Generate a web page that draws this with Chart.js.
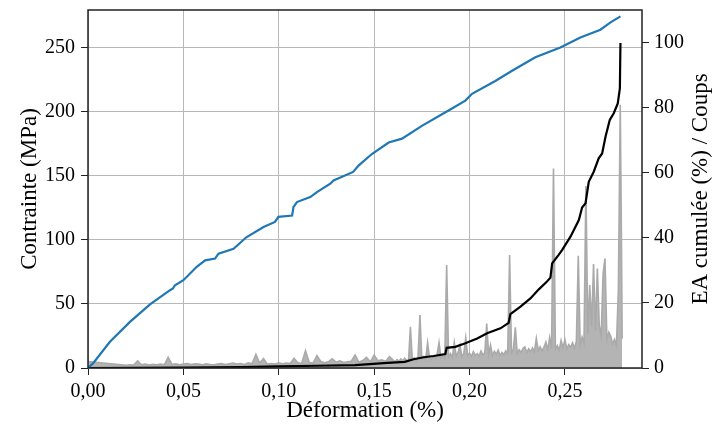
<!DOCTYPE html>
<html><head><meta charset="utf-8">
<script src="https://cdn.jsdelivr.net/npm/chart.js@4/dist/chart.umd.min.js"></script>
<style>html,body{margin:0;padding:0;background:#fff;} canvas{display:block;}</style>
</head><body>
<canvas id="c" width="715" height="430"></canvas>
<script>
// ---- Data ----
const stressStrain = [0, 0.0026, 0.0115, 0.022, 0.0325, 0.043, 0.0445, 0.0456, 0.05, 0.057, 0.0614, 0.0666, 0.0684, 0.0763, 0.083, 0.092, 0.098, 0.0998, 0.107, 0.1077, 0.1095, 0.1165, 0.12, 0.127, 0.1287, 0.139, 0.1418, 0.1488, 0.1576, 0.1646, 0.175, 0.189, 0.1978, 0.2013, 0.2135, 0.2223, 0.2345, 0.2476, 0.2581, 0.2686, 0.2739, 0.2791];
const stressMPa = [0, 3.6, 20.5, 36, 49.6, 60.7, 62, 64.6, 68.5, 79, 84, 85.4, 89.3, 93, 102, 110, 114, 118, 119, 125.6, 129.5, 133.4, 137.3, 143.8, 146.4, 153, 158, 167, 176, 179, 189, 201, 208.7, 214, 224, 232, 242.5, 250.2, 258, 264, 269.7, 274.4];

const aeStrain = [0, 0.05, 0.08, 0.10, 0.12, 0.14, 0.157, 0.166, 0.1707, 0.176, 0.1812, 0.1873, 0.188, 0.1925, 0.1978, 0.204, 0.2092, 0.2162, 0.2205, 0.2214, 0.2267, 0.2319, 0.2363, 0.2406, 0.2424, 0.2433, 0.2467, 0.2485, 0.2529, 0.2573, 0.259, 0.2608, 0.2625, 0.2651, 0.2677, 0.2695, 0.2713, 0.2735, 0.2756, 0.2777, 0.2788, 0.2791];
const aeCumulPct = [0, 0.15, 0.3, 0.5, 0.7, 0.9, 1.6, 1.9, 2.7, 3.3, 3.7, 4.3, 6.2, 6.5, 7.6, 9.1, 10.7, 12.2, 13.9, 16.6, 18.9, 21.4, 24.2, 26.6, 27.8, 32.2, 34.8, 36.3, 40.4, 45.5, 49.4, 50.7, 57.3, 60.4, 64.5, 66, 71.2, 76.3, 78.4, 81.4, 86, 100];

const hitsStrain = [0, 0.020, 0.022, 0.024, 0.026, 0.028, 0.030, 0.032, 0.034, 0.036, 0.038, 0.040, 0.042, 0.044, 0.046, 0.048, 0.050, 0.052, 0.054, 0.056, 0.058, 0.060, 0.062, 0.064, 0.066, 0.068, 0.070, 0.072, 0.074, 0.076, 0.078, 0.080, 0.082, 0.084, 0.086, 0.088, 0.090, 0.092, 0.094, 0.096, 0.098, 0.100, 0.102, 0.104, 0.106, 0.108, 0.110, 0.112, 0.114, 0.116, 0.118, 0.120, 0.122, 0.124, 0.126, 0.128, 0.130, 0.132, 0.134, 0.136, 0.138, 0.140, 0.142, 0.144, 0.146, 0.148, 0.150, 0.152, 0.154, 0.156, 0.158, 0.160,
  0.161, 0.162, 0.163, 0.164, 0.165, 0.166, 0.167, 0.168, 0.169, 0.170, 0.171, 0.172, 0.173, 0.174, 0.175, 0.176, 0.177, 0.178, 0.179, 0.180,
  0.181, 0.182, 0.183, 0.184, 0.185, 0.186, 0.187, 0.188, 0.189, 0.190, 0.191, 0.192, 0.193, 0.194, 0.195, 0.196, 0.197, 0.198, 0.199, 0.200,
  0.201, 0.202, 0.203, 0.204, 0.205, 0.206, 0.207, 0.208, 0.209, 0.210, 0.211, 0.212, 0.213, 0.214, 0.215, 0.216, 0.217, 0.218, 0.219, 0.220,
  0.221, 0.222, 0.223, 0.224, 0.225, 0.226, 0.227, 0.228, 0.229, 0.230, 0.231, 0.232, 0.233, 0.234, 0.235, 0.236, 0.237, 0.238, 0.239, 0.240,
  0.241, 0.242, 0.243, 0.244, 0.245, 0.246, 0.247, 0.248, 0.249, 0.250, 0.251, 0.252, 0.253, 0.254, 0.255, 0.256, 0.257, 0.258, 0.259, 0.260,
  0.261, 0.262, 0.263, 0.264, 0.265, 0.266, 0.267, 0.268, 0.269, 0.270, 0.271, 0.272, 0.273, 0.274, 0.275, 0.276, 0.277, 0.278, 0.279, 0.2795, 0.280];
const hitsCount = [2.0, 0.8, 1.0, 0.9, 2.2, 1.0, 1.2, 0.9, 1.1, 1.0, 1.2, 1.0, 3.3, 1.1, 1.3, 1.0, 1.2, 1.4, 1.1, 1.3, 1.2, 1.0, 1.3, 1.1, 1.0, 1.2, 1.4, 1.1, 1.3, 1.5, 1.2, 1.4, 1.1, 1.6, 1.3, 4.2, 1.5, 2.9, 1.2, 1.4, 1.2, 1.6, 1.3, 1.5, 1.4, 3.0, 1.6, 1.4, 5.3, 1.7, 1.5, 3.8, 2.0, 1.6, 1.9, 2.8, 1.8, 2.2, 1.7, 1.9, 2.1, 4.0, 1.8, 2.3, 3.3, 1.9, 4.0, 2.2, 2.5, 2.0, 3.5, 2.4,
  1.9, 2.6, 2.1, 2.8, 2.2, 3.0, 2.4, 2.1, 12.7, 2.6, 3.1, 2.3, 3.4, 16.3, 2.8, 3.5, 2.6, 7.8, 3.2, 2.7,
  3.6, 3.0, 4.2, 7.8, 3.1, 3.8, 2.9, 31.7, 3.5, 4.4, 3.2, 7.8, 3.6, 4.8, 7.0, 3.4, 4.5, 9.3, 3.8, 4.6,
  3.5, 5.0, 3.9, 4.4, 3.6, 5.2, 4.0, 4.7, 13.7, 4.2, 7.0, 3.8, 5.1, 4.3, 5.5, 3.9, 4.8, 4.1, 5.3, 4.5,
  34.8, 4.6, 5.8, 12.5, 4.4, 5.6, 4.8, 6.0, 6.5, 4.7, 5.9, 5.0, 6.2, 4.9, 9.1, 5.4, 6.5, 5.2, 6.4, 8.0,
  5.6, 9.4, 6.0, 61.4, 5.8, 6.9, 5.5, 8.5, 6.2, 8.7, 5.9, 7.2, 6.4, 7.8, 6.1, 8.2, 34.5, 7.0, 9.5, 7.6,
  56.0, 10.5, 25.5, 12.8, 32.0, 11.5, 30.6, 13.0, 9.8, 29.0, 33.7, 8.6, 11.0, 9.8, 7.4, 8.8, 6.9, 24.0, 81.0, 48.0, 9.0];

const xTickValues = [0, 0.05, 0.10, 0.15, 0.20, 0.25];
const xTickLabels = ['0,00', '0,05', '0,10', '0,15', '0,20', '0,25'];
const leftTickValues = [0, 50, 100, 150, 200, 250];
const rightTickValues = [0, 20, 40, 60, 80, 100];
const rightTitle = 'EA cumulée (%) / Coups';

// ---- Build datasets ----
const toXY = (xs, ys) => xs.map((x, i) => ({x: x, y: ys[i]}));

const FONT = "'Liberation Serif', 'Times New Roman', serif";
Chart.defaults.font.family = FONT;
Chart.defaults.color = '#000';

const frame = {
  id: 'frame',
  afterDatasetsDraw(chart) {
    const a = chart.chartArea, ctx = chart.ctx;
    ctx.save();
    ctx.strokeStyle = '#222';
    ctx.lineWidth = 1.5;
    ctx.strokeRect(a.left, a.top, a.right - a.left, a.bottom - a.top);
    ctx.restore();
  },
  afterDraw(chart) {
    // right axis title, reading bottom-to-top like the reference
    const a = chart.chartArea, ctx = chart.ctx;
    ctx.save();
    ctx.fillStyle = '#000';
    ctx.font = "23px " + FONT;
    ctx.textAlign = 'center';
    ctx.textBaseline = 'middle';
    ctx.translate(chart.width - 14, (a.top + a.bottom) / 2);
    ctx.rotate(-Math.PI / 2);
    ctx.fillText(rightTitle, 0, 0);
    ctx.restore();
  }
};
const whiteBg = {
  id: 'whiteBg',
  beforeDraw(chart) {
    const ctx = chart.ctx;
    ctx.save(); ctx.fillStyle = '#fff'; ctx.fillRect(0, 0, chart.width, chart.height); ctx.restore();
  }
};

new Chart(document.getElementById('c'), {
  type: 'line',
  data: {
    datasets: [
      { label: 'Contrainte', data: toXY(stressStrain, stressMPa), yAxisID: 'y', borderColor: '#1f77b4', borderWidth: 2.2, pointRadius: 0, tension: 0, order: 1 },
      { label: 'EA cumulée', data: toXY(aeStrain, aeCumulPct), yAxisID: 'y2', borderColor: '#000', borderWidth: 2.2, pointRadius: 0, tension: 0, order: 2 },
      { label: 'Coups', data: toXY(hitsStrain, hitsCount), yAxisID: 'y2', borderColor: '#aaaaaa', backgroundColor: '#b4b4b4', fill: 'origin', borderWidth: 1.6, pointRadius: 0, tension: 0, order: 3 }
    ]
  },
  options: {
    responsive: false,
    animation: false,
    devicePixelRatio: 1,
    layout: { padding: { top: 10, left: 0, right: 0, bottom: 0 } },
    plugins: { legend: { display: false }, tooltip: { enabled: false } },
    scales: {
      x: {
        type: 'linear', position: 'bottom', min: 0, max: 0.2904,
        afterBuildTicks: s => { s.ticks = xTickValues.map(v => ({value: v})); },
        afterFit: s => { s.height = 62; s.paddingLeft = 0; s.paddingRight = 0; },
        ticks: { callback: (v, i) => xTickLabels[i], font: { size: 20 }, padding: 5, maxRotation: 0 },
        grid: { color: '#b8b8b8', lineWidth: 1, tickColor: '#222', tickLength: 7 },
        border: { display: false },
        title: { display: true, text: 'Déformation (%)', font: { size: 23 }, padding: { top: 0, bottom: 5 } }
      },
      y: {
        type: 'linear', position: 'left', min: 0, max: 279.4,
        afterBuildTicks: s => { s.ticks = leftTickValues.map(v => ({value: v})); },
        afterFit: s => { s.width = 88; s.paddingTop = 0; s.paddingBottom = 0; },
        ticks: { font: { size: 20 }, padding: 6 },
        grid: { color: '#b8b8b8', lineWidth: 1, tickColor: '#222', tickLength: 7 },
        border: { display: false },
        title: { display: true, text: 'Contrainte (MPa)', font: { size: 23 }, padding: { top: 16, bottom: 0 } }
      },
      y2: {
        type: 'linear', position: 'right', min: 0, max: 110.15,
        afterBuildTicks: s => { s.ticks = rightTickValues.map(v => ({value: v})); },
        afterFit: s => { s.width = 73; s.paddingTop = 0; s.paddingBottom = 0; },
        ticks: { font: { size: 20 }, padding: 5 },
        grid: { drawOnChartArea: false, tickColor: '#222', tickLength: 7 },
        border: { display: false },
        title: { display: false }
      }
    }
  },
  plugins: [whiteBg, frame]
});
</script>
</body></html>
